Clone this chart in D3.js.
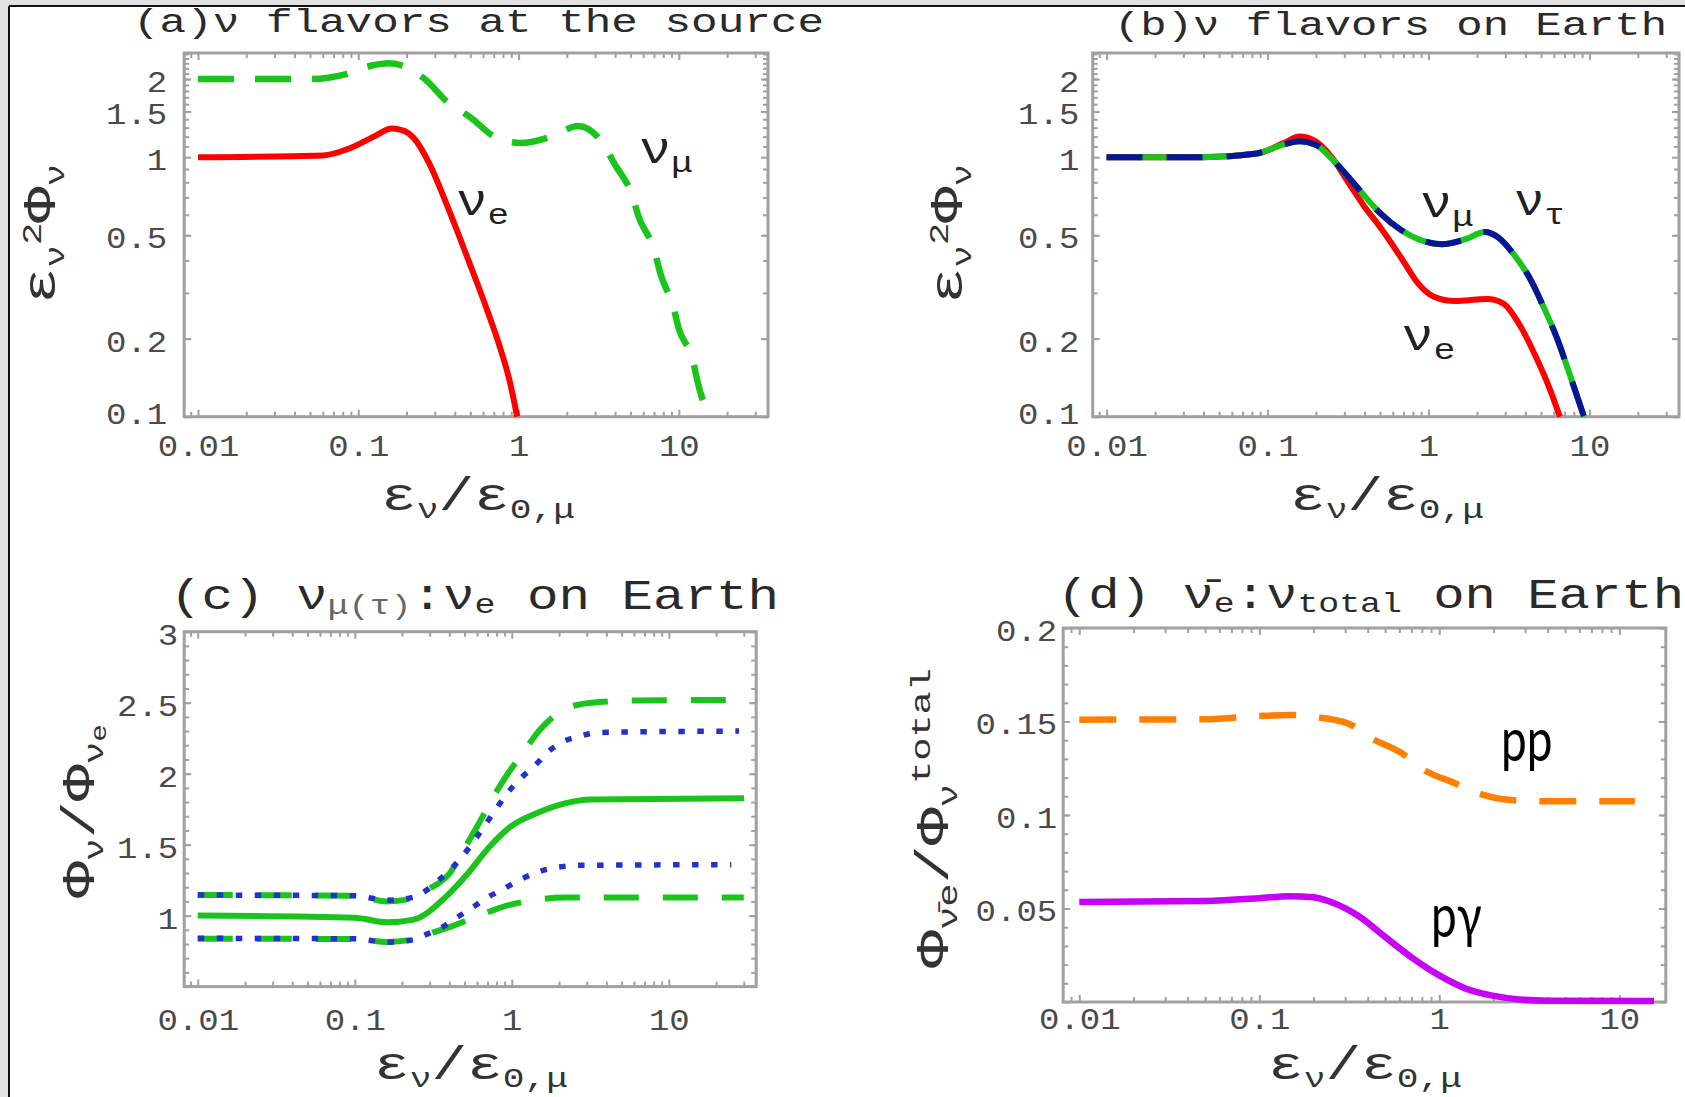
<!DOCTYPE html>
<html><head><meta charset="utf-8">
<script src="https://cdn.jsdelivr.net/npm/d3@7"></script>
<style>
html,body{margin:0;padding:0;background:#fff;}
svg{display:block;}
</style></head><body>
<svg id="chart" width="1685" height="1097"></svg>
<script>
// ---------------- DATA ----------------
// x values are E_nu / E_0,mu
// (a) nu flavors at the source
const aNuE_x  = [0.01,0.06,0.088,0.125,0.162,0.195,0.2207,0.278,0.351,0.409,0.476,0.556,0.649,0.757,0.883,0.98];
const aNuE_y  = [1.0,1.015,1.08,1.2,1.29,1.26,1.19,0.943,0.673,0.53,0.415,0.323,0.249,0.189,0.136,0.1];
const aNuMu_x = [0.01,0.05,0.084,0.12,0.155,0.19,0.2576,0.364,0.496,0.728,1.03,1.64,2.35,3.4,3.97,5.11,5.6,7.06,7.63,9.25,9.98,12.3,13.1,15.5];
const aNuMu_y = [2.0,2.0,2.09,2.25,2.3,2.25,2.01,1.62,1.43,1.188,1.134,1.207,1.32,1.116,0.942,0.713,0.592,0.434,0.36,0.264,0.219,0.163,0.136,0.1];
// (b) nu flavors on Earth
const bNuE_x  = [0.01,0.04,0.085,0.125,0.158,0.199,0.25,0.315,0.397,0.499,0.679,0.856,1.08,1.46,2.32,2.92,3.68,4.63,5.61,6.55];
const bNuE_y  = [1.0,1.0,1.03,1.13,1.2,1.15,1.0,0.806,0.649,0.539,0.408,0.328,0.29,0.279,0.284,0.273,0.226,0.171,0.13,0.1];
const bNuMu_x = [0.01,0.04,0.0853,0.125,0.158,0.199,0.25,0.315,0.397,0.499,0.679,0.923,1.21,1.71,2.23,2.71,3.41,4.29,5.2,6.3,7.64,9.25];
const bNuMu_y = [1.0,1.0,1.033,1.117,1.151,1.117,0.987,0.845,0.713,0.61,0.523,0.476,0.462,0.484,0.515,0.491,0.42,0.339,0.264,0.2,0.142,0.1];
const bNuTau_x = [0.01,0.04,0.0853,0.125,0.158,0.199,0.25,0.315,0.397,0.499,0.679,0.923,1.21,1.71,2.23,2.71,3.41,4.29,5.2,6.3,7.64,9.25];
const bNuTau_y = [1.0,1.0,1.033,1.117,1.151,1.117,0.987,0.845,0.713,0.61,0.523,0.476,0.462,0.484,0.515,0.491,0.42,0.339,0.264,0.2,0.142,0.1];
// (c) nu_mu(tau) : nu_e on Earth
const cSolid_x   = [0.01,0.1,0.16,0.237,0.38,0.521,0.71,0.978,1.45,2.15,3.19,30.1];
const cSolid_y   = [1.0,0.985,0.953,0.972,1.132,1.293,1.477,1.625,1.723,1.789,1.818,1.827];
const cDashHi_x  = [0.01,0.1,0.16,0.23,0.3,0.41,0.48,0.61,0.74,0.93,1.15,1.51,2.15,3.2,6,30];
const cDashHi_y  = [1.145,1.14,1.1,1.12,1.19,1.31,1.44,1.64,1.81,1.99,2.13,2.31,2.45,2.5,2.515,2.52];
const cDashLo_x  = [0.01,0.1,0.16,0.23,0.3,0.41,0.61,0.93,1.37,2.15,4,30];
const cDashLo_y  = [0.837,0.835,0.815,0.83,0.874,0.923,0.997,1.071,1.107,1.128,1.127,1.127];
const cDotHi_x   = [0.01,0.1,0.16,0.237,0.267,0.338,0.411,0.482,0.586,0.686,0.804,0.93,1.146,1.40,1.70,2.15,2.72,3.5,28];
const cDotHi_y   = [1.145,1.14,1.108,1.13,1.157,1.244,1.33,1.415,1.539,1.649,1.76,1.858,1.97,2.056,2.154,2.228,2.265,2.29,2.3];
const cDotLo_x   = [0.01,0.1,0.16,0.237,0.278,0.35,0.444,0.564,0.71,0.904,1.146,1.45,1.99,2.72,25];
const cDotLo_y   = [0.84,0.837,0.813,0.83,0.862,0.911,0.985,1.058,1.132,1.194,1.256,1.305,1.342,1.354,1.359];
// (d) anti-nu_e : nu_total on Earth
const dPP_x = [0.01,0.05,0.1,0.15,0.2,0.31,0.42,0.62,0.81,1.22,1.67,2.5,4,12.2];
const dPP_y = [0.151,0.1512,0.153,0.1535,0.1525,0.149,0.141,0.133,0.1245,0.117,0.1114,0.108,0.1073,0.1073];
const dPG_x = [0.01,0.05,0.1,0.146,0.2,0.25,0.356,0.5,0.71,1.0,1.41,1.98,2.8,4,15.6];
const dPG_y = [0.0535,0.054,0.0555,0.0566,0.056,0.0535,0.046,0.0348,0.0235,0.0142,0.0071,0.0034,0.0013,0.0007,0.0006];

// tick labels
const xTickValues = [0.01,0.1,1,10];
const xTickLabels = ["0.01","0.1","1","10"];
const logYTickValues = [0.1,0.2,0.5,1,1.5,2];
const logYTickLabels = ["0.1","0.2","0.5","1","1.5","2"];
const ratioYTickValues = [1,1.5,2,2.5,3];
const ratioYTickLabels = ["1","1.5","2","2.5","3"];
const fracYTickValues = [0.05,0.1,0.15,0.2];
const fracYTickLabels = ["0.05","0.1","0.15","0.2"];

// ---------------- DRAWING ----------------
const MONO = '"Liberation Mono","DejaVu Sans Mono",monospace';
const FRAME = '#a0a0a0';
const svg = d3.select('#chart');

svg.append('rect').attr('width',1685).attr('height',1097).attr('fill','#e2e2e2');
svg.append('rect').attr('x',10).attr('y',7).attr('width',1675).attr('height',1090).attr('fill','#fff');
svg.append('line').attr('x1',9).attr('y1',6).attr('x2',9).attr('y2',1097).attr('stroke','#111').attr('stroke-width',2);
svg.append('line').attr('x1',9).attr('y1',6).attr('x2',1685).attr('y2',6).attr('stroke','#111').attr('stroke-width',2);

const zip = (xs, ys) => xs.map((v,i)=>[v, ys[i]]);

function logMinor(dom){
  const out=[];
  for(let e=-3;e<=2;e++) for(let k=1;k<=9;k++){
    const v=k*Math.pow(10,e);
    if(v>=dom[0]&&v<=dom[1]) out.push(v);
  }
  return out;
}
function linMinor(a,b,s){const out=[];for(let v=a;v<=b+1e-9;v+=s) out.push(+v.toFixed(6));return out;}

function styleTicks(gAx){
  gAx.select('.domain').remove();
  gAx.selectAll('line').attr('stroke', FRAME).attr('stroke-width',2);
}

function richText(parent, parts, opt){
  const t = parent.append('text')
    .attr('font-family', MONO)
    .attr('fill', opt.fill || '#333')
    .attr('text-anchor', opt.anchor || 'start');
  if(opt.rotate) t.attr('transform', `translate(${opt.x},${opt.y}) rotate(-90)`);
  else t.attr('x', opt.x).attr('y', opt.y);
  let prev = 0;
  parts.forEach(p=>{
    const s = p.shift || 0;
    const ts = t.append('tspan').attr('font-size', p.size).attr('dy', s-prev).text(p.t);
    if(p.fill) ts.attr('fill', p.fill);
    prev = s;
  });
  if(opt.len) t.attr('textLength', opt.len).attr('lengthAdjust','spacingAndGlyphs');
  return t;
}

function panel(cfg){
  const g = svg.append('g');
  const x = d3.scaleLog().domain(cfg.xDomain).range([cfg.left, cfg.right]);
  const y = (cfg.yLog ? d3.scaleLog() : d3.scaleLinear()).domain(cfg.yDomain).range([cfg.bottom, cfg.top]);

  // frame
  g.append('rect').attr('x',cfg.left).attr('y',cfg.top)
    .attr('width',cfg.right-cfg.left).attr('height',cfg.bottom-cfg.top)
    .attr('fill','none').attr('stroke',FRAME).attr('stroke-width',3);

  const xMinor = logMinor(cfg.xDomain).filter(v=>!xTickValues.includes(v));
  // bottom axis (labels)
  const bx = g.append('g').attr('transform',`translate(0,${cfg.bottom})`)
    .call(d3.axisBottom(x).tickValues(xTickValues).tickSize(-7)
      .tickFormat((d,i)=>xTickLabels[i]));
  styleTicks(bx);
  bx.selectAll('text').attr('font-family',MONO).attr('font-size',29).attr('fill','#4a4a4a')
    .attr('y', cfg.xLabOff).attr('dy',0)
    .attr('textLength',(d,i)=>xTickLabels[i].length*20.4).attr('lengthAdjust','spacingAndGlyphs');
  styleTicks(g.append('g').attr('transform',`translate(0,${cfg.bottom})`)
    .call(d3.axisBottom(x).tickValues(xMinor).tickSize(-5).tickFormat('')));
  styleTicks(g.append('g').attr('transform',`translate(0,${cfg.top})`)
    .call(d3.axisTop(x).tickValues(xTickValues).tickSize(-7).tickFormat('')));
  styleTicks(g.append('g').attr('transform',`translate(0,${cfg.top})`)
    .call(d3.axisTop(x).tickValues(xMinor).tickSize(-5).tickFormat('')));

  // left axis (labels)
  const ly = g.append('g').attr('transform',`translate(${cfg.left},0)`)
    .call(d3.axisLeft(y).tickValues(cfg.yTicks).tickSize(-7)
      .tickFormat((d,i)=>cfg.yLabels[i]));
  styleTicks(ly);
  ly.selectAll('text').attr('font-family',MONO).attr('font-size',29).attr('fill','#4a4a4a')
    .attr('x', -cfg.yGap).attr('y',(d,i)=> (i===0 && cfg.firstLabUp) ? 2-cfg.firstLabUp : 2).attr('dy','0.36em')
    .attr('textLength',(d,i)=>cfg.yLabels[i].length*20.4).attr('lengthAdjust','spacingAndGlyphs');
  styleTicks(g.append('g').attr('transform',`translate(${cfg.left},0)`)
    .call(d3.axisLeft(y).tickValues(cfg.yMinor).tickSize(-5).tickFormat('')));
  styleTicks(g.append('g').attr('transform',`translate(${cfg.right},0)`)
    .call(d3.axisRight(y).tickValues(cfg.yTicks).tickSize(-7).tickFormat('')));
  styleTicks(g.append('g').attr('transform',`translate(${cfg.right},0)`)
    .call(d3.axisRight(y).tickValues(cfg.yMinor).tickSize(-5).tickFormat('')));

  // curves
  const clipId = 'clip'+cfg.id;
  svg.append('clipPath').attr('id',clipId).append('rect')
    .attr('x',cfg.left-2).attr('y',cfg.top-2).attr('width',cfg.right-cfg.left+4).attr('height',cfg.bottom-cfg.top+5);
  const cg = g.append('g').attr('clip-path',`url(#${clipId})`);
  const line = d3.line().x(d=>x(d[0])).y(d=>y(d[1])).curve(d3.curveMonotoneX);
  cfg.series.forEach(s=>{
    cg.append('path').attr('d', line(zip(s.x, s.y)))
      .attr('fill','none').attr('stroke',s.color).attr('stroke-width',s.w||6)
      .attr('stroke-dasharray', s.dash||null).attr('stroke-linecap','butt').attr('stroke-linejoin','round');
  });
  return {x,y,g};
}

const logYMinor = linMinor(0.1,0.9,0.1).concat(linMinor(1.1,2.5,0.1));

panel({id:'a', left:184.2, right:768, top:53, bottom:416.7, xDomain:[0.0082,36],
  yLog:true, yDomain:[0.1,2.52], yTicks:logYTickValues, yLabels:logYTickLabels, yMinor:logYMinor,
  yGap:17, xLabOff:39.5, firstLabUp:6,
  series:[
    {x:aNuE_x, y:aNuE_y, color:'#ff0000', w:6},
    {x:aNuMu_x, y:aNuMu_y, color:'#1bc41b', w:6.5, dash:'36 21'}
  ]});
panel({id:'b', left:1092.7, right:1679, top:53, bottom:416.7, xDomain:[0.0082,36],
  yLog:true, yDomain:[0.1,2.52], yTicks:logYTickValues, yLabels:logYTickLabels, yMinor:logYMinor,
  yGap:13.4, xLabOff:39.5, firstLabUp:6,
  series:[
    {x:bNuE_x, y:bNuE_y, color:'#ff0000', w:6},
    {x:bNuMu_x, y:bNuMu_y, color:'#1bc41b', w:6},
    {x:bNuTau_x, y:bNuTau_y, color:'#0a1496', w:6, dash:'36 24'}
  ]});
panel({id:'c', left:184.2, right:756.2, top:631.7, bottom:986.6, xDomain:[0.0082,36],
  yLog:false, yDomain:[0.5,3], yTicks:ratioYTickValues, yLabels:ratioYTickLabels, yMinor:linMinor(0.5,3,0.1),
  yGap:6, xLabOff:43.5,
  series:[
    {x:cDashHi_x, y:cDashHi_y, color:'#1bc41b', w:6, dash:'35 24'},
    {x:cDashLo_x, y:cDashLo_y, color:'#1bc41b', w:6, dash:'35 24'},
    {x:cSolid_x, y:cSolid_y, color:'#1bc41b', w:6},
    {x:cDotHi_x, y:cDotHi_y, color:'#2233cc', w:5.5, dash:'6.5 12.5'},
    {x:cDotLo_x, y:cDotLo_y, color:'#2233cc', w:5.5, dash:'6.5 12.5'}
  ]});
panel({id:'d', left:1063.2, right:1665.8, top:628, bottom:1002, xDomain:[0.00814,18.13],
  yLog:false, yDomain:[0,0.2], yTicks:fracYTickValues, yLabels:fracYTickLabels, yMinor:linMinor(0,0.2,0.01),
  yGap:6, xLabOff:27,
  series:[
    {x:dPP_x, y:dPP_y, color:'#ff8000', w:6.5, dash:'37 23'},
    {x:dPG_x, y:dPG_y, color:'#c800f5', w:6.5}
  ]});

// ---------------- TITLES ----------------
svg.append('text').attr('x',133).attr('y',32).attr('font-family',MONO).attr('font-size',34).attr('fill','#2a2a2a')
  .attr('textLength',691).attr('lengthAdjust','spacingAndGlyphs').text('(a)ν flavors at the source');
svg.append('text').attr('x',1114).attr('y',35).attr('font-family',MONO).attr('font-size',34).attr('fill','#2a2a2a')
  .attr('textLength',553).attr('lengthAdjust','spacingAndGlyphs').text('(b)ν flavors on Earth');
richText(svg, [
  {t:'(c) ', size:42}, {t:'ν', size:42}, {t:'μ(τ)', size:28, shift:5, fill:'#666'},
  {t:':', size:42}, {t:'ν', size:42}, {t:'e', size:28, shift:4}, {t:' on Earth', size:42}
], {x:170, y:608.5, len:609, fill:'#2a2a2a'});
richText(svg, [
  {t:'(d) ', size:42}, {t:'ν\u0304', size:42}, {t:'e', size:28, shift:4},
  {t:':', size:42}, {t:'ν', size:42}, {t:'total', size:28, shift:4}, {t:' on Earth', size:42}
], {x:1057, y:607.5, len:627, fill:'#2a2a2a'});

// ---------------- AXIS LABELS ----------------
const xLabParts = [
  {t:'ε', size:46}, {t:'ν', size:28, shift:8}, {t:'/', size:46}, {t:'ε', size:46}, {t:'0,μ', size:28, shift:8}
];
[[478,510],[1387,510],[471,1079],[1365,1079]].forEach(p=>{
  richText(svg, xLabParts, {x:p[0], y:p[1], anchor:'middle', len:194});
});
const yLabAB = [
  {t:'ε', size:46}, {t:'ν', size:28, shift:9}, {t:'2', size:28, shift:-14}, {t:'Φ', size:46}, {t:'ν', size:28, shift:9}
];
richText(svg, yLabAB, {x:55, y:234, rotate:true, anchor:'middle', len:140});
richText(svg, yLabAB, {x:962, y:234, rotate:true, anchor:'middle', len:140});
richText(svg, [
  {t:'Φ', size:46}, {t:'ν', size:28, shift:9}, {t:'/', size:46}, {t:'Φ', size:46}, {t:'ν', size:28, shift:9}, {t:'e', size:22, shift:12}
], {x:94, y:811, rotate:true, anchor:'middle', len:174});
richText(svg, [
  {t:'Φ', size:46}, {t:'ν\u0304', size:28, shift:9}, {t:'e', size:28, shift:9}, {t:'/', size:46},
  {t:'Φ', size:46}, {t:'ν', size:28, shift:9}, {t:'total', size:28, shift:-18}
], {x:948, y:818, rotate:true, anchor:'middle', len:300});

// ---------------- CURVE LABELS ----------------
const nuLab = (x0,y0,sub,len)=>richText(svg, [{t:'ν', size:44}, {t:sub, size:30, shift:9}], {x:x0, y:y0, len:len, fill:'#222'});
nuLab(456, 215, 'e', 53);
nuLab(639, 162.5, 'μ', 54);
nuLab(1420, 216.7, 'μ', 54);
nuLab(1514, 215, 'τ', 51);
nuLab(1401.5, 349.5, 'e', 54);

svg.append('text').attr('transform','translate(1501,760.5) scale(1,1.3)')
  .attr('font-family','Lato, "Open Sans", sans-serif').attr('font-size',46).attr('fill','#000').text('pp');
svg.append('text').attr('transform','translate(1431,937) scale(1,1.3)')
  .attr('font-family','Lato, "Open Sans", sans-serif').attr('font-size',46).attr('fill','#000').text('pγ');
</script>
</body></html>
